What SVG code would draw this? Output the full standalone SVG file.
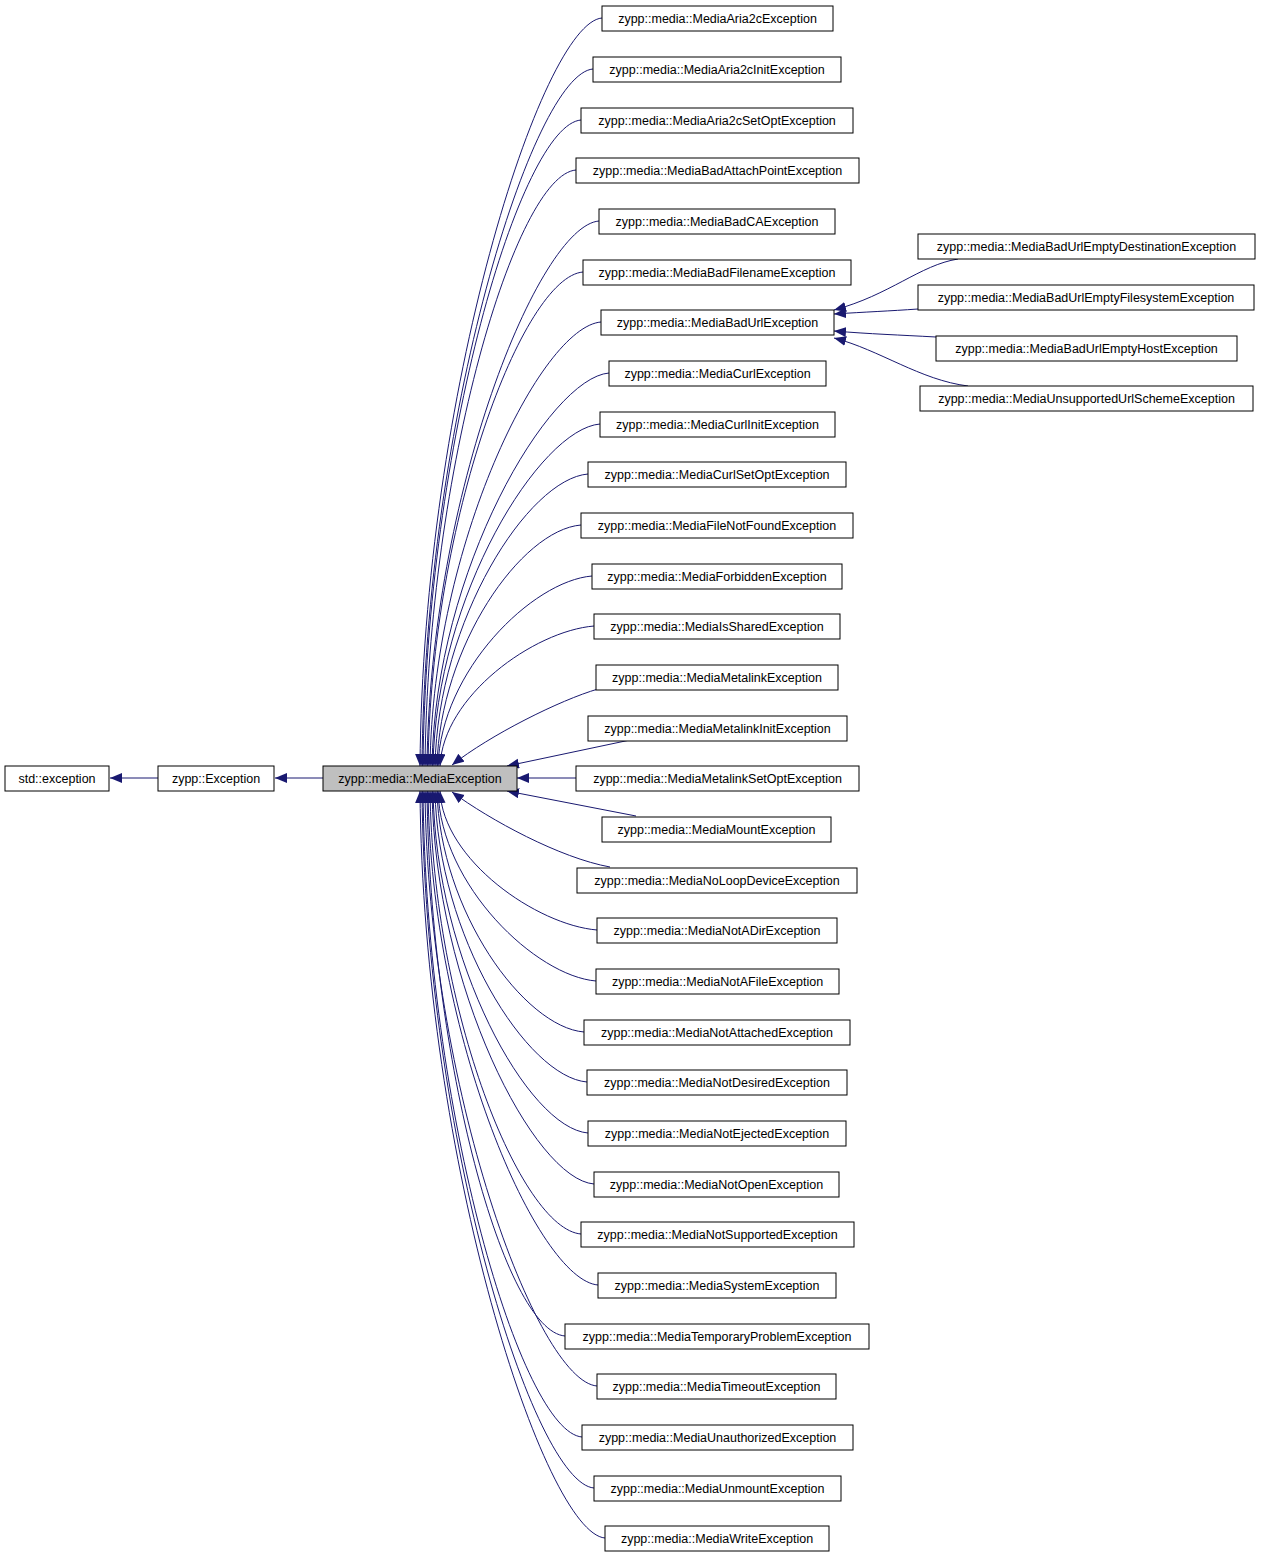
<svg xmlns="http://www.w3.org/2000/svg" width="1261" height="1557" viewBox="0 0 1261 1557">
<style>
.n rect{fill:#fff;stroke:#000;stroke-width:1}
.n text{font-family:"Liberation Sans",Arial,sans-serif;font-size:12.5px;text-anchor:middle;fill:#000}
#edges path{fill:none;stroke:#191970;stroke-width:1;marker-end:url(#ah)}
</style>
<defs><marker id="ah" markerUnits="userSpaceOnUse" markerWidth="14" markerHeight="12" refX="12" refY="5" orient="auto"><polygon points="0,0 12,5 0,10" fill="#191970"/></marker></defs>
<rect width="1261" height="1557" fill="#fff"/>
<g id="edges">
<path d="M158,778 L110,778"/>
<path d="M323,778 L275,778"/>
<path d="M602,18 C542,23 423,392 420,766"/>
<path d="M593,69 C533,74 425,418 422,766"/>
<path d="M581,120 C521,125 426,443 423,766"/>
<path d="M576,170 C516,175 428,468 425,766"/>
<path d="M599,221 C539,226 430,494 427,766"/>
<path d="M583,272 C523,277 431,519 428,766"/>
<path d="M601,322 C541,327 433,544 430,766"/>
<path d="M609,373 C549,378 435,570 432,766"/>
<path d="M600,424 C540,429 436,595 433,766"/>
<path d="M588,474 C528,479 438,620 435,766"/>
<path d="M581,525 C521,530 440,646 437,766"/>
<path d="M592,576 C532,581 441,671 438,766"/>
<path d="M594,626 C534,631 443,696 440,766"/>
<path d="M598,689 C560,700 490,735 452,765"/>
<path d="M630,740 L507,766"/>
<path d="M576,778 L517,778"/>
<path d="M636,816 L507,791"/>
<path d="M610,867 C560,858 490,820 452,792"/>
<path d="M597,930 C537,925 443,860 440,791"/>
<path d="M596,981 C536,976 441,886 438,791"/>
<path d="M584,1032 C524,1027 440,911 437,791"/>
<path d="M587,1082 C527,1077 438,936 435,791"/>
<path d="M588,1133 C528,1128 436,962 433,791"/>
<path d="M594,1184 C534,1179 435,987 432,791"/>
<path d="M581,1234 C521,1229 433,1012 430,791"/>
<path d="M598,1285 C538,1280 431,1038 428,791"/>
<path d="M565,1336 C505,1331 430,1063 427,791"/>
<path d="M597,1386 C537,1381 428,1088 425,791"/>
<path d="M582,1437 C522,1432 426,1114 423,791"/>
<path d="M594,1488 C534,1483 425,1139 422,791"/>
<path d="M605,1538 C545,1533 423,1164 420,791"/>
<path d="M958,259 C920,265 890,295 834,310"/>
<path d="M918,309 C890,311 865,312 834,314"/>
<path d="M936,337 C900,335 870,334 834,331"/>
<path d="M968,386 C920,380 880,350 834,338"/>
</g>
<g id="std_exception" class="n"><rect x="5" y="766" width="104" height="25"/><text x="57" y="783">std::exception</text></g>
<g id="zypp_Exception" class="n"><rect x="158" y="766" width="116" height="25"/><text x="216" y="783">zypp::Exception</text></g>
<g id="MediaException" class="n"><rect x="323" y="766" width="194" height="25" style="fill:#bfbfbf"/><text x="420" y="783">zypp::media::MediaException</text></g>
<g id="n0" class="n"><rect x="602" y="6" width="231" height="25"/><text x="717.5" y="23">zypp::media::MediaAria2cException</text></g>
<g id="n1" class="n"><rect x="593" y="57" width="248" height="25"/><text x="717" y="74">zypp::media::MediaAria2cInitException</text></g>
<g id="n2" class="n"><rect x="581" y="108" width="272" height="25"/><text x="717" y="125">zypp::media::MediaAria2cSetOptException</text></g>
<g id="n3" class="n"><rect x="576" y="158" width="283" height="25"/><text x="717.5" y="175">zypp::media::MediaBadAttachPointException</text></g>
<g id="n4" class="n"><rect x="599" y="209" width="236" height="25"/><text x="717" y="226">zypp::media::MediaBadCAException</text></g>
<g id="n5" class="n"><rect x="583" y="260" width="268" height="25"/><text x="717" y="277">zypp::media::MediaBadFilenameException</text></g>
<g id="n6" class="n"><rect x="601" y="310" width="233" height="25"/><text x="717.5" y="327">zypp::media::MediaBadUrlException</text></g>
<g id="n7" class="n"><rect x="609" y="361" width="217" height="25"/><text x="717.5" y="378">zypp::media::MediaCurlException</text></g>
<g id="n8" class="n"><rect x="600" y="412" width="235" height="25"/><text x="717.5" y="429">zypp::media::MediaCurlInitException</text></g>
<g id="n9" class="n"><rect x="588" y="462" width="258" height="25"/><text x="717" y="479">zypp::media::MediaCurlSetOptException</text></g>
<g id="n10" class="n"><rect x="581" y="513" width="272" height="25"/><text x="717" y="530">zypp::media::MediaFileNotFoundException</text></g>
<g id="n11" class="n"><rect x="592" y="564" width="250" height="25"/><text x="717" y="581">zypp::media::MediaForbiddenException</text></g>
<g id="n12" class="n"><rect x="594" y="614" width="246" height="25"/><text x="717" y="631">zypp::media::MediaIsSharedException</text></g>
<g id="n13" class="n"><rect x="596" y="665" width="242" height="25"/><text x="717" y="682">zypp::media::MediaMetalinkException</text></g>
<g id="n14" class="n"><rect x="588" y="716" width="259" height="25"/><text x="717.5" y="733">zypp::media::MediaMetalinkInitException</text></g>
<g id="n15" class="n"><rect x="576" y="766" width="283" height="25"/><text x="717.5" y="783">zypp::media::MediaMetalinkSetOptException</text></g>
<g id="n16" class="n"><rect x="602" y="817" width="229" height="25"/><text x="716.5" y="834">zypp::media::MediaMountException</text></g>
<g id="n17" class="n"><rect x="577" y="868" width="280" height="25"/><text x="717" y="885">zypp::media::MediaNoLoopDeviceException</text></g>
<g id="n18" class="n"><rect x="597" y="918" width="240" height="25"/><text x="717" y="935">zypp::media::MediaNotADirException</text></g>
<g id="n19" class="n"><rect x="596" y="969" width="243" height="25"/><text x="717.5" y="986">zypp::media::MediaNotAFileException</text></g>
<g id="n20" class="n"><rect x="584" y="1020" width="266" height="25"/><text x="717" y="1037">zypp::media::MediaNotAttachedException</text></g>
<g id="n21" class="n"><rect x="587" y="1070" width="260" height="25"/><text x="717" y="1087">zypp::media::MediaNotDesiredException</text></g>
<g id="n22" class="n"><rect x="588" y="1121" width="258" height="25"/><text x="717" y="1138">zypp::media::MediaNotEjectedException</text></g>
<g id="n23" class="n"><rect x="594" y="1172" width="245" height="25"/><text x="716.5" y="1189">zypp::media::MediaNotOpenException</text></g>
<g id="n24" class="n"><rect x="581" y="1222" width="273" height="25"/><text x="717.5" y="1239">zypp::media::MediaNotSupportedException</text></g>
<g id="n25" class="n"><rect x="598" y="1273" width="238" height="25"/><text x="717" y="1290">zypp::media::MediaSystemException</text></g>
<g id="n26" class="n"><rect x="565" y="1324" width="304" height="25"/><text x="717" y="1341">zypp::media::MediaTemporaryProblemException</text></g>
<g id="n27" class="n"><rect x="597" y="1374" width="239" height="25"/><text x="716.5" y="1391">zypp::media::MediaTimeoutException</text></g>
<g id="n28" class="n"><rect x="582" y="1425" width="271" height="25"/><text x="717.5" y="1442">zypp::media::MediaUnauthorizedException</text></g>
<g id="n29" class="n"><rect x="594" y="1476" width="247" height="25"/><text x="717.5" y="1493">zypp::media::MediaUnmountException</text></g>
<g id="n30" class="n"><rect x="605" y="1526" width="224" height="25"/><text x="717" y="1543">zypp::media::MediaWriteException</text></g>
<g id="r0" class="n"><rect x="918" y="234" width="337" height="25"/><text x="1086.5" y="251">zypp::media::MediaBadUrlEmptyDestinationException</text></g>
<g id="r1" class="n"><rect x="918" y="285" width="336" height="25"/><text x="1086" y="302">zypp::media::MediaBadUrlEmptyFilesystemException</text></g>
<g id="r2" class="n"><rect x="936" y="336" width="301" height="25"/><text x="1086.5" y="353">zypp::media::MediaBadUrlEmptyHostException</text></g>
<g id="r3" class="n"><rect x="920" y="386" width="333" height="25"/><text x="1086.5" y="403">zypp::media::MediaUnsupportedUrlSchemeException</text></g>
</svg>
